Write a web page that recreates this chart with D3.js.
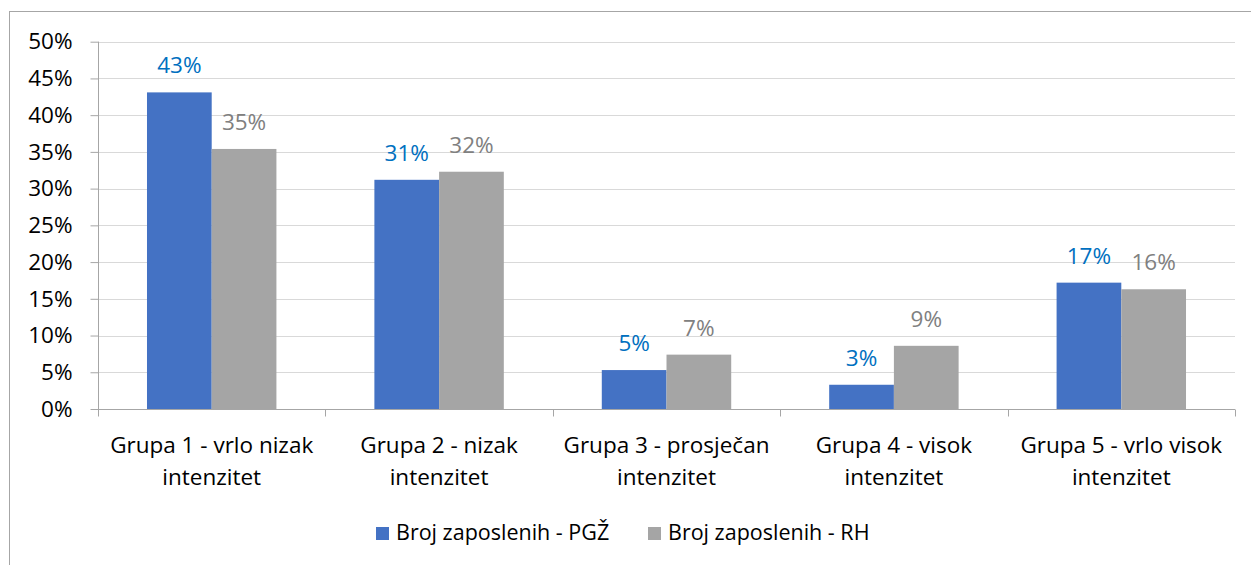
<!DOCTYPE html>
<html>
<head>
<meta charset="utf-8">
<script src="https://cdn.jsdelivr.net/npm/d3@7"></script>
<style>
  body { margin: 0; background: #fff; }
  svg { display: block; font-family: "Open Sans", "Noto Sans", sans-serif; }
</style>
</head>
<body>
<div id="chart"></div>
<script>
const categories = [
  ['Grupa 1 - vrlo nizak', 'intenzitet'],
  ['Grupa 2 - nizak', 'intenzitet'],
  ['Grupa 3 - prosječan', 'intenzitet'],
  ['Grupa 4 - visok', 'intenzitet'],
  ['Grupa 5 - vrlo visok', 'intenzitet']
];
const seriesNames = ['Broj zaposlenih - PGŽ', 'Broj zaposlenih - RH'];
const pgzValues = [43.1, 31.2, 5.3, 3.3, 17.2];
const rhValues = [35.4, 32.3, 7.4, 8.6, 16.3];
const yTicks = [0, 5, 10, 15, 20, 25, 30, 35, 40, 45, 50];

const width = 1251, height = 565;
const colors = ['#4472C4', '#A5A5A5'];
const labelColors = ['#0070C0', '#808080'];
const fontSize = '22.5px';

const svg = d3.select('#chart').append('svg')
  .attr('width', width).attr('height', height);

// okvir grafikona
svg.append('rect')
  .attr('x', 9.5).attr('y', 11.5)
  .attr('width', width + 20).attr('height', height + 20)
  .attr('fill', 'none').attr('stroke', '#a6a6a6').attr('stroke-width', 1);

const plotLeft = 98, plotRight = 1235, plotTop = 41.7, plotBottom = 409;

const y = d3.scaleLinear().domain([0, 50]).range([plotBottom, plotTop]);
const x0 = d3.scaleBand().domain(d3.range(categories.length)).range([plotLeft, plotRight]);
const x1 = d3.scaleBand().domain([0, 1]).range([0, x0.bandwidth()]).paddingOuter(0.757);

// mreža
svg.append('g').selectAll('line')
  .data(yTicks.filter(d => d > 0))
  .enter().append('line')
  .attr('x1', plotLeft).attr('x2', plotRight)
  .attr('y1', d => Math.round(y(d)) + 0.5).attr('y2', d => Math.round(y(d)) + 0.5)
  .attr('stroke', '#d9d9d9').attr('stroke-width', 1);

// stupci
const rows = categories.map((c, i) => [pgzValues[i], rhValues[i]]);
const groups = svg.append('g').selectAll('g')
  .data(rows)
  .enter().append('g')
  .attr('transform', (d, i) => 'translate(' + x0(i) + ',0)');

groups.selectAll('rect')
  .data(d => d)
  .enter().append('rect')
  .attr('x', (d, j) => x1(j))
  .attr('width', x1.bandwidth())
  .attr('y', d => y(d))
  .attr('height', d => plotBottom - y(d))
  .attr('fill', (d, j) => colors[j]);

groups.selectAll('text')
  .data(d => d)
  .enter().append('text')
  .attr('x', (d, j) => x1(j) + x1.bandwidth() / 2)
  .attr('y', d => y(d) - 19)
  .attr('text-anchor', 'middle')
  .style('font-size', fontSize)
  .attr('fill', (d, j) => labelColors[j])
  .text(d => Math.round(d) + '%');

// y os
const yAxis = svg.append('g')
  .attr('transform', 'translate(' + (plotLeft + 0.5) + ',0)')
  .call(d3.axisLeft(y).tickValues(yTicks).tickSize(8).tickPadding(18).tickFormat(d => d + '%'));
yAxis.select('.domain').attr('stroke', '#a6a6a6').attr('d', 'M0,' + plotTop + 'V' + plotBottom);
yAxis.selectAll('.tick line').attr('stroke', '#a6a6a6');
yAxis.selectAll('.tick text')
  .style('font-size', fontSize).attr('fill', '#000')
  .style('font-family', '"Open Sans", sans-serif');

// x os
const xAxis = svg.append('g').attr('transform', 'translate(0,' + (plotBottom + 0.5) + ')');
xAxis.append('line')
  .attr('x1', plotLeft).attr('x2', plotRight)
  .attr('stroke', '#a6a6a6');
xAxis.selectAll('.cat-tick')
  .data(d3.range(categories.length + 1))
  .enter().append('line')
  .attr('x1', i => Math.round(i < categories.length ? x0(i) : plotRight) + 0.5)
  .attr('x2', i => Math.round(i < categories.length ? x0(i) : plotRight) + 0.5)
  .attr('y1', 0).attr('y2', 7)
  .attr('stroke', '#a6a6a6');

xAxis.selectAll('.cat-label')
  .data(categories)
  .enter().append('text')
  .attr('text-anchor', 'middle')
  .style('font-size', fontSize)
  .attr('fill', '#000')
  .selectAll('tspan')
  .data((d, i) => d.map(t => ({ t: t, i: i })))
  .enter().append('tspan')
  .attr('x', d => x0(d.i) + x0.bandwidth() / 2)
  .attr('y', (d, k) => 43 + k * 32)
  .text(d => d.t);

// legenda
const legendX = [376, 648];
const legend = svg.append('g').selectAll('g')
  .data(seriesNames)
  .enter().append('g')
  .attr('transform', (d, i) => 'translate(' + legendX[i] + ',527)');
legend.append('rect')
  .attr('width', 13).attr('height', 13)
  .attr('fill', (d, i) => colors[i]);
legend.append('text')
  .attr('x', 20).attr('y', 13)
  .style('font-size', '21.5px')
  .attr('fill', '#000')
  .text(d => d);
</script>
</body>
</html>
